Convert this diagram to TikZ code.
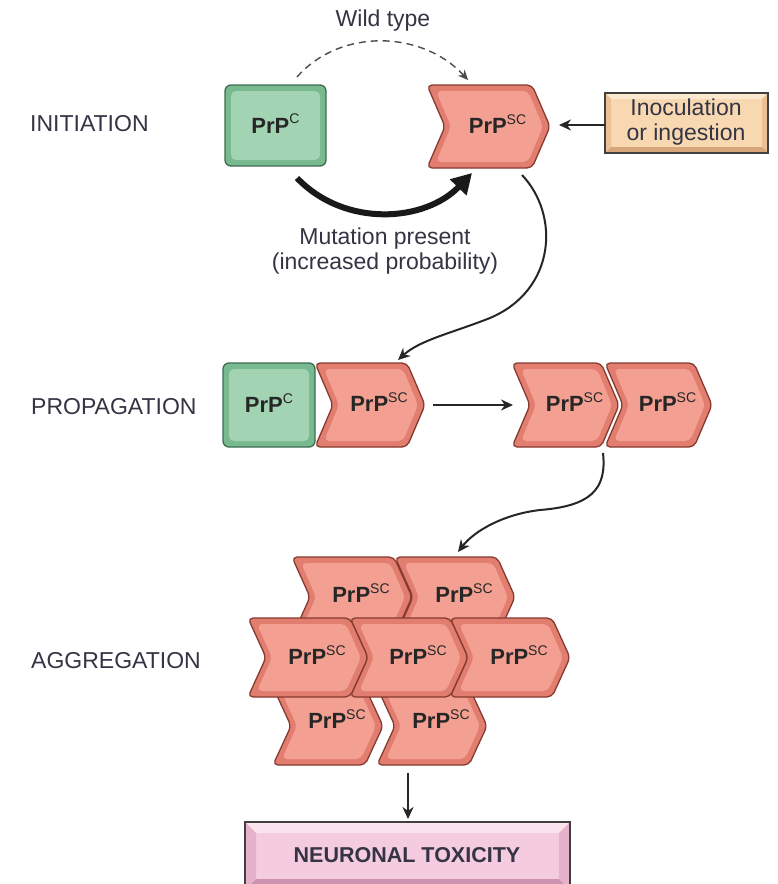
\documentclass[tikz,border=0pt]{standalone}
\usepackage{fontspec}
\setmainfont{Liberation Sans}
\usetikzlibrary{arrows.meta}
\definecolor{txt}{HTML}{343444}
\definecolor{chevedge}{HTML}{E27E70}
\definecolor{chevface}{HTML}{F3A092}
\definecolor{chevline}{HTML}{863A30}
\definecolor{greenedge}{HTML}{78B990}
\definecolor{greenface}{HTML}{A2D4B3}
\definecolor{greenline}{HTML}{3D6C50}
\definecolor{peachface}{HTML}{F7D8B0}
\definecolor{peachtop}{HTML}{FBE8CF}
\definecolor{peachside}{HTML}{EBC194}
\definecolor{peachbot}{HTML}{D6A57A}
\definecolor{pinkface}{HTML}{F5CBDF}
\definecolor{pinktop}{HTML}{FBE4EE}
\definecolor{pinkside}{HTML}{E6B2CB}
\definecolor{pinkbot}{HTML}{CC92AF}
\newcommand\prpsc{PrP\raisebox{0.42em}{\mdseries\fontsize{14}{14}\selectfont SC}}
\newcommand\prpc{PrP\raisebox{0.42em}{\mdseries\fontsize{14}{14}\selectfont C}}
\newcommand\chev[6]{%
 \pgfmathsetmacro\chL{#2}%
 \pgfmathsetmacro\chR{#3}%
 \pgfmathsetmacro\chT{#4}%
 \pgfmathsetmacro\chB{#5}%
 \pgfmathsetmacro\chM{(#4+#5)/2}%
 \path[fill=chevedge, draw=chevline, line width=1.3pt, rounded corners=5pt] (\chL,\chT) -- ({\chR-18},\chT) -- (\chR,\chM) -- ({\chR-18},\chB) -- (\chL,\chB) -- ({\chL+18},\chM) -- cycle;
 \path[fill=chevface, rounded corners=5pt] ({\chL+9},{\chT+6}) -- ({\chR-22},{\chT+6}) -- ({\chR-7},\chM) -- ({\chR-22},{\chB-6}) -- ({\chL+9},{\chB-6}) -- ({\chL+24},\chM) -- cycle;
 \node[prp] (#1) at ({(\chL+18+\chR)/2},#6) {\prpsc};
}
\newcommand\gbox[5]{%
 \path[fill=greenedge, draw=greenline, line width=1.3pt, rounded corners=6pt] (#2,#3) rectangle (#4,#5);
 \path[fill=greenface, rounded corners=5pt] ({#2+6},{#3+6}) rectangle ({#4-6},{#5-6});
 \node[prp] (#1) at ({(#2+#4)/2},{(#3+#5)/2-2}) {\prpc};
}
% x1 y1 x2 y2 bevel face top side bottom
\newcommand\bevbox[9]{%
 \fill[#6] (#1,#2) rectangle (#3,#4);
 \fill[#7] (#1,#2) -- (#3,#2) -- ({#3-#5},{#2+#5}) -- ({#1+#5},{#2+#5}) -- cycle;
 \fill[#8] (#1,#2) -- ({#1+#5},{#2+#5}) -- ({#1+#5},{#4-#5}) -- (#1,#4) -- cycle;
 \fill[#8] (#3,#2) -- ({#3-#5},{#2+#5}) -- ({#3-#5},{#4-#5}) -- (#3,#4) -- cycle;
 \fill[#9] (#1,#4) -- ({#1+#5},{#4-#5}) -- ({#3-#5},{#4-#5}) -- (#3,#4) -- cycle;
 \draw[line width=1.3pt, black!75] (#1,#2) rectangle (#3,#4);
}
\tikzset{
 prp/.style={font=\bfseries\fontsize{22}{24}\selectfont, text=black!85, inner sep=0pt},
 lab/.style={font=\fontsize{23}{25}\selectfont, text=txt, inner sep=0pt, anchor=west},
 note/.style={font=\fontsize{23}{25}\selectfont, text=txt, inner sep=0pt, align=center},
 arr/.style={line width=2.2pt, black!85, -{Stealth[length=12pt,width=11pt]}},
 curv/.style={line width=2pt, black!85, -{Stealth[length=12pt,width=11pt]}},
}
\begin{document}
\begin{tikzpicture}[x=1pt, y=-1pt]
\useasboundingbox (0,0) rectangle (777,884);
\clip (0,0) rectangle (777,884);
\fill[white] (0,0) rectangle (777,884);

% labels
\node[lab] (initiation) at (30,124) {INITIATION};
\node[lab] (propagation) at (31,407) {PROPAGATION};
\node[lab] (aggregation) at (31,661) {AGGREGATION};

% initiation row
\gbox{prpc1}{225}{85}{326}{166}
\chev{prpsc1}{427}{550}{85}{168}{124}
\bevbox{605}{93}{768}{153}{6}{peachface}{peachtop}{peachside}{peachbot}
\node[note] (inoc) at (686,122) {Inoculation\\or ingestion};
\coordinate (inocW) at (605,125);
\coordinate (scE) at (559,125);
\draw[arr] (inocW) -- (scE);

\node[note] (wild) at (383,21) {Wild type};
\coordinate (wA) at (297,77);
\coordinate (wB) at (468,80);
\draw[line width=1.4pt, black!70, dash pattern=on 7pt off 5pt, -{Stealth[length=10pt,width=9pt]}] (wA) .. controls (340,28) and (422,30) .. (wB);

\coordinate (mA) at (297,178);
\coordinate (mB) at (472,173);
\draw[line width=6pt, black!90, -{Triangle[length=20pt,width=22pt]}] (mA) .. controls (345,228) and (425,222) .. (mB);
\node[note] (mut) at (385,251) {Mutation present\\(increased probability)};

% curved arrow to propagation
\coordinate (c1A) at (522,175);
\coordinate (c1B) at (398,360);
\draw[curv] (c1A) .. controls (560,215) and (556,290) .. (490,318) .. controls (452,333) and (420,340) .. (c1B);

% propagation row
\gbox{prpc2}{223}{363}{315}{447}
\chev{prpsc2}{315}{425}{363}{447}{402}
\coordinate (pA) at (433,405);
\coordinate (pB) at (513,405);
\draw[arr] (pA) -- (pB);
\chev{prpsc4}{605}{712}{363}{447}{402}
\chev{prpsc3}{512}{619}{363}{447}{402}

% curved arrow to aggregation
\coordinate (c2A) at (603,453);
\coordinate (c2B) at (458,552);
\draw[curv] (c2A) .. controls (607,490) and (590,506) .. (540,510) .. controls (505,514) and (475,530) .. (c2B);

% aggregation
\chev{ag2}{395}{515}{557}{637}{593}
\chev{ag1}{292}{412}{557}{637}{593}
\chev{ag7}{377}{487}{687}{765}{719}
\chev{ag6}{273}{383}{687}{765}{719}
\chev{ag5}{450}{570}{618}{697}{655}
\chev{ag4}{350}{468}{618}{697}{655}
\chev{ag3}{248}{368}{618}{697}{655}

\coordinate (dA) at (408,773);
\coordinate (dB) at (408,819);
\draw[arr] (dA) -- (dB);

\bevbox{245}{822}{570}{890}{11}{pinkface}{pinktop}{pinkside}{pinkbot}
\node[prp, text=txt, font=\bfseries\fontsize{21.5}{24}\selectfont] (tox) at (407,855) {NEURONAL TOXICITY};
\end{tikzpicture}
\end{document}
